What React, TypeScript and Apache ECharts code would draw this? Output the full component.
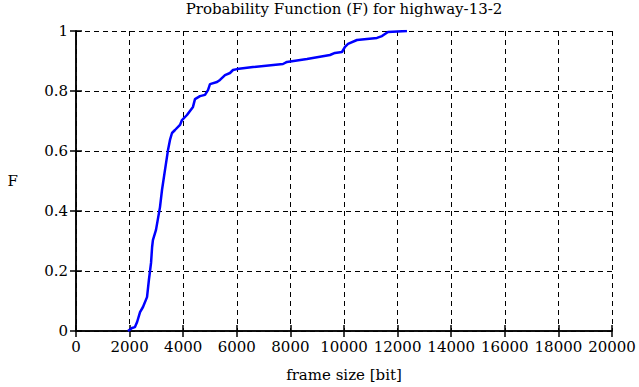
import React, { useEffect, useRef } from "react";
import * as echarts from "echarts";

const xTicks = [0, 2000, 4000, 6000, 8000, 10000, 12000, 14000, 16000, 18000, 20000];
const yTicks = [0, 0.2, 0.4, 0.6, 0.8, 1];
const frameSize = [
  1940, 2090, 2200, 2280, 2390, 2500, 2650, 2720, 2800, 2840, 2870, 2985, 3134, 3209, 3321, 3433,
  3507, 3582, 3694, 3880, 3955, 4141, 4365, 4440, 4627, 4813, 4925, 5000, 5261, 5373, 5560, 5746,
  5858, 6007, 6604, 7723, 7873, 8619, 9477, 9663, 9925, 10037, 10149, 10484, 11230, 11417, 11641, 12350,
];
const probF = [
  0.0, 0.01, 0.013, 0.03, 0.063, 0.08, 0.113, 0.17, 0.227, 0.28, 0.303, 0.337, 0.413, 0.47, 0.537, 0.603,
  0.637, 0.66, 0.67, 0.687, 0.703, 0.72, 0.747, 0.773, 0.783, 0.787, 0.803, 0.823, 0.83, 0.837, 0.853, 0.86,
  0.87, 0.873, 0.88, 0.89, 0.897, 0.907, 0.92, 0.927, 0.93, 0.947, 0.957, 0.97, 0.977, 0.983, 0.997, 1.0,
];

const FONT = "DejaVu Serif";

export default function App() {
  const ref = useRef<HTMLDivElement>(null);
  useEffect(() => {
    if (!ref.current) return;
    const chart = echarts.init(ref.current, undefined, { renderer: "svg" });
    const data = frameSize.map((x, i) => [x, probF[i]]);
    const axisLine = { show: true, lineStyle: { color: "#000", width: 1.5 } };
    const tick = { show: true, inside: true, length: 6, lineStyle: { color: "#000", width: 1.5 } };
    const split = { show: true, lineStyle: { color: "#000", width: 1, type: [5, 4] as any } };
    const txt = { fontFamily: FONT, fontSize: 15, color: "#000", fontWeight: "normal" as const };
    chart.setOption({
      animation: false,
      backgroundColor: "#fff",
      textStyle: { fontFamily: FONT },
      grid: { left: 76, right: 27, top: 31, bottom: 56, containLabel: false, outerBoundsMode: "none" },
      title: {
        text: "Probability Function (F) for highway-13-2",
        left: 344,
        top: 1,
        textAlign: "center",
        padding: 0,
        textStyle: { ...txt },
      },
      xAxis: [
        {
          type: "value",
          min: xTicks[0],
          max: xTicks[xTicks.length - 1],
          interval: 2000,
          name: "frame size [bit]",
          nameLocation: "middle",
          nameGap: 36,
          nameTextStyle: { ...txt },
          axisLine,
          axisTick: tick,
          splitLine: split,
          axisLabel: {
            ...txt,
            margin: 8,
            showMinLabel: true,
            showMaxLabel: true,
            formatter: (v: number) => String(v),
          },
        },
        {
          type: "value",
          position: "top",
          min: xTicks[0],
          max: xTicks[xTicks.length - 1],
          interval: 2000,
          axisLine,
          axisTick: tick,
          splitLine: { show: false },
          axisLabel: { show: false },
        },
      ],
      yAxis: [
        {
          type: "value",
          min: yTicks[0],
          max: yTicks[yTicks.length - 1],
          interval: 0.2,
          name: "F",
          nameLocation: "middle",
          nameRotate: 0,
          nameGap: 58,
          nameTextStyle: { ...txt },
          axisLine,
          axisTick: tick,
          splitLine: split,
          axisLabel: {
            ...txt,
            margin: 8,
            formatter: (v: number) => String(Math.round(v * 10) / 10),
          },
        },
        {
          type: "value",
          position: "right",
          min: yTicks[0],
          max: yTicks[yTicks.length - 1],
          interval: 0.2,
          axisLine,
          axisTick: tick,
          splitLine: { show: false },
          axisLabel: { show: false },
        },
      ],
      series: [
        {
          type: "line",
          data,
          showSymbol: false,
          symbol: "none",
          lineStyle: { color: "#0000ff", width: 2.5 },
          z: 5,
        },
      ],
    });
    return () => chart.dispose();
  }, []);
  return <div ref={ref} style={{ width: 639, height: 387, position: "absolute", left: 0, top: 0 }} />;
}
